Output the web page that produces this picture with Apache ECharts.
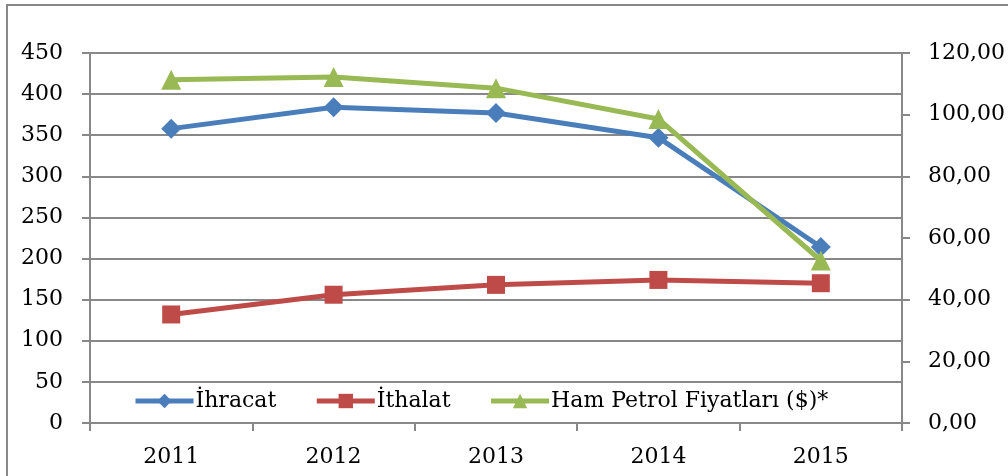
<!DOCTYPE html>
<html>
<head>
<meta charset="utf-8">
<script src="https://cdn.jsdelivr.net/npm/echarts@6/dist/echarts.min.js"></script>
<style>
  html, body { margin: 0; padding: 0; background: #fff; }
  #chart { width: 1008px; height: 476px; }
</style>
</head>
<body>
<div id="chart"></div>
<script>
const years = ['2011', '2012', '2013', '2014', '2015']
const ihracat = [358, 384, 377, 347, 214]
const ithalat = [132, 156, 168, 174, 170]
const petrol = [111.3, 112.2, 108.6, 98.6, 52.7]

const font = 'DejaVu Serif'
const gray = '#888888'

let myChart = echarts.init(document.getElementById('chart'))
myChart.setOption({
  animation: false,
  color: ['#4A7EBB', '#BE4B48', '#98B954'],
  textStyle: { fontFamily: font },
  graphic: [{
    type: 'rect',
    shape: { x: 7, y: 5, width: 1100, height: 600 },
    style: { fill: 'none', stroke: gray, lineWidth: 2 }
  }],
  legend: {
    left: 128,
    top: 385,
    itemWidth: 58,
    itemHeight: 18,
    itemGap: 38,
    lineStyle: { width: 5 },
    textStyle: { fontFamily: font, fontSize: 22, color: '#000', padding: [0, 0, 0, -3] },
    data: ['İhracat', 'İthalat', 'Ham Petrol Fiyatları ($)*']
  },
  grid: { left: 90, right: 104, top: 53, bottom: 53 },
  xAxis: {
    type: 'category',
    data: years,
    axisLine: { lineStyle: { color: gray, width: 2 } },
    axisTick: { show: true, length: 8, lineStyle: { color: gray, width: 2 } },
    axisLabel: { color: '#000', fontSize: 22, fontFamily: font, margin: 23 }
  },
  yAxis: [
    {
      type: 'value',
      min: 0,
      max: 450,
      interval: 50,
      axisLine: { show: true, lineStyle: { color: gray, width: 2 } },
      axisTick: { show: true, length: 8, lineStyle: { color: gray, width: 2 } },
      axisLabel: { color: '#000', fontSize: 22, fontFamily: font, margin: 27 },
      splitLine: { lineStyle: { color: gray, width: 2 } }
    },
    {
      type: 'value',
      min: 0,
      max: 120,
      interval: 20,
      axisLine: { show: true, lineStyle: { color: gray, width: 2 } },
      axisTick: { show: true, length: 8, lineStyle: { color: gray, width: 2 } },
      axisLabel: {
        color: '#000', fontSize: 22, fontFamily: font, margin: 26,
        formatter: v => v.toFixed(2).replace('.', ',')
      },
      splitLine: { show: false }
    }
  ],
  series: [
    {
      name: 'İhracat',
      type: 'line',
      data: ihracat,
      symbol: 'diamond',
      symbolSize: 20,
      lineStyle: { width: 5 }
    },
    {
      name: 'İthalat',
      type: 'line',
      data: ithalat,
      symbol: 'rect',
      symbolSize: 18,
      lineStyle: { width: 5 }
    },
    {
      name: 'Ham Petrol Fiyatları ($)*',
      type: 'line',
      yAxisIndex: 1,
      data: petrol,
      symbol: 'triangle',
      symbolSize: 20,
      lineStyle: { width: 5 }
    }
  ]
})
</script>
</body>
</html>
